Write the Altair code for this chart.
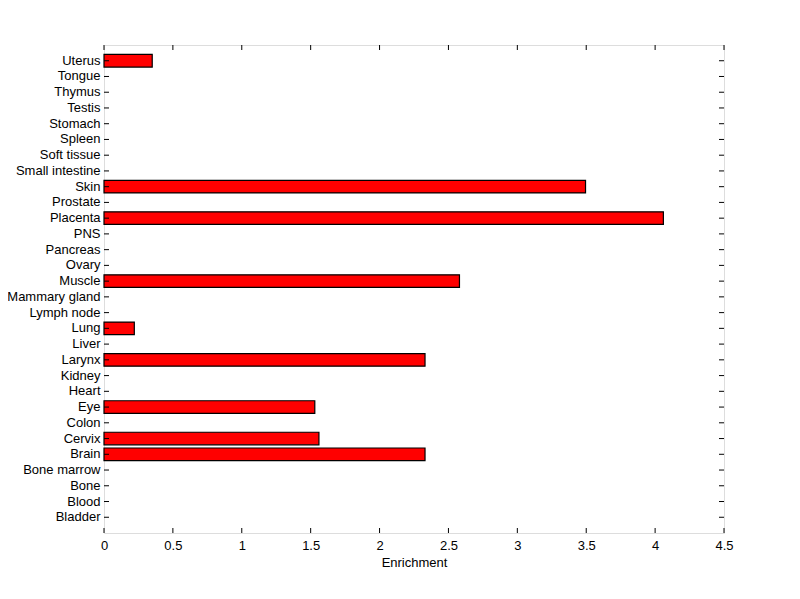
import altair as alt
import pandas as pd

tissues = ["Bladder", "Blood", "Bone", "Bone marrow", "Brain", "Cervix", "Colon", "Eye",
           "Heart", "Kidney", "Larynx", "Liver", "Lung", "Lymph node", "Mammary gland",
           "Muscle", "Ovary", "Pancreas", "PNS", "Placenta", "Prostate", "Skin",
           "Small intestine", "Soft tissue", "Spleen", "Stomach", "Testis", "Thymus",
           "Tongue", "Uterus"]
enrichment = [0, 0, 0, 0, 2.33, 1.56, 0, 1.53,
              0, 0, 2.33, 0, 0.22, 0, 0,
              2.58, 0, 0, 0, 4.06, 0, 3.495,
              0, 0, 0, 0, 0, 0,
              0, 0.35]
x_ticks = [0, 0.5, 1, 1.5, 2, 2.5, 3, 3.5, 4, 4.5]

W, H = 620, 488
order = list(reversed(tissues))

df = pd.DataFrame({"tissue": tissues, "value": enrichment})
bars_df = df[df["value"] > 0]
ticks_df = pd.DataFrame({"t": x_ticks})

yscale = alt.Scale(domain=order, paddingInner=0.2, paddingOuter=0.6)
xscale = alt.Scale(domain=[0, 4.5], nice=False)
FONT = "Liberation Sans"
FS = 13

bars = alt.Chart(bars_df).mark_bar(color="#FF0000", stroke="black", strokeWidth=1.2).encode(
    x=alt.X("value:Q", scale=xscale,
            axis=alt.Axis(title="Enrichment", values=x_ticks, format="~g", ticks=False,
                          domain=False, grid=False, labelFont=FONT, labelFontSize=FS,
                          labelColor="black", labelPadding=6, titleFont=FONT,
                          titleFontSize=FS, titleFontWeight="normal", titleColor="black",
                          titlePadding=4, labelFlush=False)),
    y=alt.Y("tissue:N", scale=yscale, sort=order,
            axis=alt.Axis(title=None, ticks=False, domain=False, grid=False,
                          labelFont=FONT, labelFontSize=FS, labelColor="black",
                          labelPadding=4)),
)

ytick_left = alt.Chart(df).mark_rule(color="black", strokeWidth=1).encode(
    y=alt.Y("tissue:N", scale=yscale, sort=order),
    x=alt.value(0), x2=alt.value(5))
ytick_right = alt.Chart(df).mark_rule(color="black", strokeWidth=1).encode(
    y=alt.Y("tissue:N", scale=yscale, sort=order),
    x=alt.value(W - 5), x2=alt.value(W))
xtick_bottom = alt.Chart(ticks_df).mark_rule(color="black", strokeWidth=1).encode(
    x=alt.X("t:Q", scale=xscale), y=alt.value(H - 5), y2=alt.value(H))
xtick_top = alt.Chart(ticks_df).mark_rule(color="black", strokeWidth=1).encode(
    x=alt.X("t:Q", scale=xscale), y=alt.value(0), y2=alt.value(5))

chart = alt.layer(bars, ytick_left, ytick_right, xtick_bottom, xtick_top).properties(
    width=W, height=H,
    autosize=alt.AutoSizeParams(type="none"),
    padding={"left": 96, "top": 37, "right": 60, "bottom": 60},
).configure_view(stroke="black", strokeWidth=1).configure(background="white")

chart.save("out.html", embed_options={"renderer": "svg", "actions": False})
